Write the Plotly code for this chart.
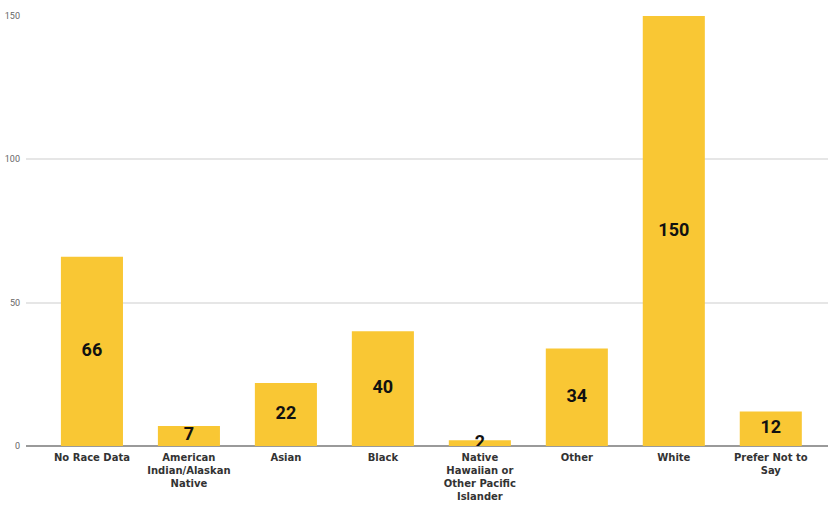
import plotly.graph_objects as go

categories = [
    "No Race Data",
    "American<br>Indian/Alaskan<br>Native",
    "Asian",
    "Black",
    "Native<br>Hawaiian or<br>Other Pacific<br>Islander",
    "Other",
    "White",
    "Prefer Not to<br>Say",
]
counts = [66, 7, 22, 40, 2, 34, 150, 12]
y_ticks = [0, 50, 100, 150]

bar_color = "#F9C734"

fig = go.Figure()
fig.add_trace(go.Bar(
    x=list(range(len(categories))),
    y=counts,
    width=0.64,
    marker=dict(color=bar_color, line=dict(width=0)),
    hoverinfo="skip",
))
# value labels centred on each bar
fig.add_trace(go.Scatter(
    x=list(range(len(categories))),
    y=[c / 2 for c in counts],
    mode="text",
    text=[str(c) for c in counts],
    textposition="middle center",
    textfont=dict(family="Roboto", size=18, color="#111111", weight="bold"),
    hoverinfo="skip",
))

fig.update_layout(
    width=828,
    height=506,
    margin=dict(l=26, r=0, t=16, b=60),
    paper_bgcolor="white",
    plot_bgcolor="white",
    showlegend=False,
    bargap=0.36,
)
fig.update_xaxes(
    tickmode="array",
    tickvals=list(range(len(categories))),
    ticktext=categories,
    range=[-0.68, 7.59],
    tickangle=0,
    tickfont=dict(family="DejaVu Sans", size=10, color="#333333", weight="bold"),
    showgrid=False,
    zeroline=False,
    showline=False,
    ticks="",
    ticklabelstandoff=4,
)
fig.update_yaxes(
    range=[0, 150],
    tickmode="array",
    tickvals=y_ticks,
    ticktext=[str(v) for v in y_ticks],
    tickfont=dict(family="Roboto", size=9, color="#666666"),
    showgrid=True,
    gridcolor="#E6E6E6",
    gridwidth=1.5,
    zeroline=True,
    zerolinecolor="#9A9A9A",
    zerolinewidth=1.5,
    ticks="",
    ticklabelstandoff=5,
)

fig.write_html("out.html")
